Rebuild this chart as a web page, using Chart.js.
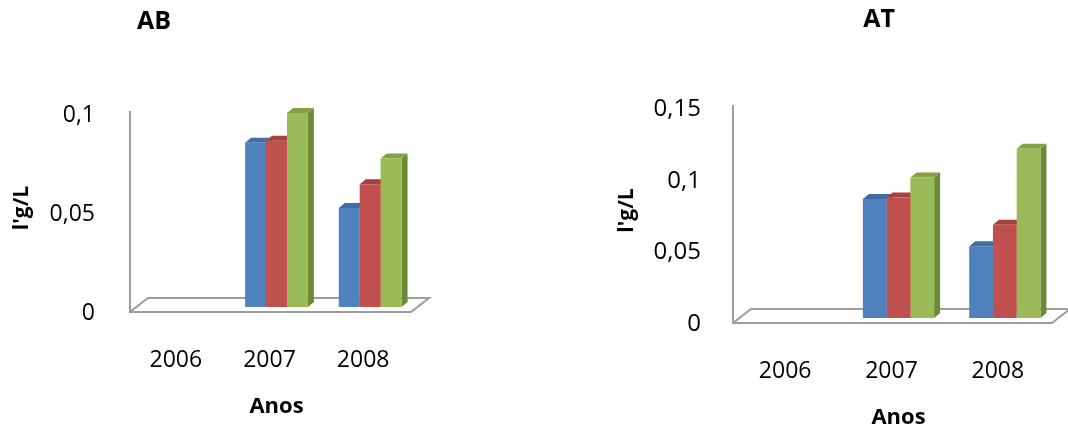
<!DOCTYPE html>
<html>
<head>
<meta charset="utf-8">
<script src="https://cdn.jsdelivr.net/npm/chart.js@4.4.0/dist/chart.umd.min.js"></script>
<style>
body{margin:0;background:#fff;width:1068px;height:433px;overflow:hidden;position:relative}
canvas{position:absolute;top:0}
</style>
</head>
<body>
<canvas id="chartAB" width="534" height="433" style="left:0"></canvas>
<canvas id="chartAT" width="534" height="433" style="left:534px"></canvas>
<script>
// anos
const years = ['2006', '2007', '2008'];
// AB (2006 sem dados)
const abBlue = [null, 0.083, 0.050];
const abRed = [null, 0.084, 0.062];
const abGreen = [null, 0.098, 0.075];
// AT
const atBlue = [null, 0.083, 0.050];
const atRed = [null, 0.084, 0.065];
const atGreen = [null, 0.098, 0.118];

const FONT = "'Open Sans', 'Liberation Sans', sans-serif";
// front, top, side
const shades = [
  ['#4f81bd', '#3f6ea6', '#385d8a'],
  ['#c0504d', '#a5413e', '#8c3836'],
  ['#9bbb59', '#83a246', '#6b8a38']
];

// fake 3d: floor, wall edge, bar tops and sides
const bars3d = {
  id: 'bars3d',
  beforeDatasetsDraw(chart) {
    const ctx = chart.ctx;
    const {left, right, top, bottom} = chart.chartArea;
    ctx.save();
    ctx.strokeStyle = '#9d9d9d';
    ctx.lineWidth = 2;
    ctx.beginPath();
    ctx.moveTo(left - 6, top + 2);
    ctx.lineTo(left - 6, bottom + 5);
    ctx.lineTo(right - 6, bottom + 5);
    ctx.lineTo(right + 12, bottom - 9);
    ctx.lineTo(left + 12, bottom - 9);
    ctx.lineTo(left - 6, bottom + 5);
    ctx.stroke();

    const dx = 6, dy = 5;
    for (let i = 0; i < chart.data.labels.length; i++) {
      chart.data.datasets.forEach((ds, d) => {
        if (ds.data[i] == null) return;
        const bar = chart.getDatasetMeta(d).data[i];
        const x0 = bar.x - bar.width / 2, x1 = bar.x + bar.width / 2;
        const y = bar.y, base = bar.base;
        ctx.fillStyle = shades[d][2];
        ctx.beginPath();
        ctx.moveTo(x1, y); ctx.lineTo(x1 + dx, y - dy);
        ctx.lineTo(x1 + dx, base - dy); ctx.lineTo(x1, base);
        ctx.closePath(); ctx.fill();
        ctx.fillStyle = shades[d][1];
        ctx.beginPath();
        ctx.moveTo(x0, y); ctx.lineTo(x0 + dx, y - dy);
        ctx.lineTo(x1 + dx, y - dy); ctx.lineTo(x1, y);
        ctx.closePath(); ctx.fill();
      });
    }
    ctx.restore();
  }
};

const panelTitle = {
  id: 'panelTitle',
  afterDraw(chart, args, opts) {
    const ctx = chart.ctx;
    ctx.save();
    ctx.font = 'bold 25px ' + FONT;
    ctx.fillStyle = '#000';
    ctx.textAlign = 'center';
    ctx.textBaseline = 'middle';
    ctx.fillText(opts.text, opts.x, opts.y);
    ctx.restore();
  }
};

function makeChart(id, blue, red, green, c) {
  return new Chart(document.getElementById(id), {
    type: 'bar',
    data: {
      labels: years,
      datasets: [blue, red, green].map((data, k) => ({
        data: data,
        backgroundColor: shades[k][0],
        borderWidth: 0,
        barPercentage: 1,
        categoryPercentage: 0.67
      }))
    },
    options: {
      responsive: false,
      animation: false,
      layout: {padding: {left: 0, right: c.padRight, top: c.top, bottom: 0}},
      plugins: {
        legend: {display: false},
        tooltip: {enabled: false},
        panelTitle: {text: c.title, x: c.titleX, y: c.titleY}
      },
      scales: {
        x: {
          grid: {display: false},
          border: {display: false},
          ticks: {color: '#000', font: {family: FONT, size: 23}, padding: 32, labelOffset: -7},
          title: {display: true, text: 'Anos', color: '#000',
                  font: {family: FONT, size: 22, weight: 'bold'}, padding: {bottom: c.anosPad}},
          afterFit: s => { s.height = 433 - c.bottom; }
        },
        y: {
          min: 0, max: c.max,
          grid: {display: false},
          border: {display: false},
          ticks: {stepSize: 0.05, color: '#000', font: {family: FONT, size: c.ySize},
                  padding: c.yPad, labelOffset: 6,
                  callback: v => String(Math.round(v * 100) / 100).replace('.', ',')},
          title: {display: true, text: "l'g/L", color: '#000',
                  font: {family: FONT, size: 21, weight: 'bold'}, padding: {top: c.yTitlePad}},
          afterFit: s => { s.width = c.left; }
        }
      }
    },
    plugins: [bars3d, panelTitle]
  });
}

makeChart('chartAB', abBlue, abRed, abGreen, {
  title: 'AB', titleX: 154, titleY: 22,
  left: 136, padRight: 117, top: 109, bottom: 307, max: 0.1,
  ySize: 23, yPad: 33, yTitlePad: 9, anosPad: 13
});
makeChart('chartAT', atBlue, atRed, atGreen, {
  title: 'AT', titleX: 345, titleY: 20,
  left: 205, padRight: 10, top: 103, bottom: 318, max: 0.15,
  ySize: 24, yPad: 30, yTitlePad: 80, anosPad: 2
});
</script>
</body>
</html>
